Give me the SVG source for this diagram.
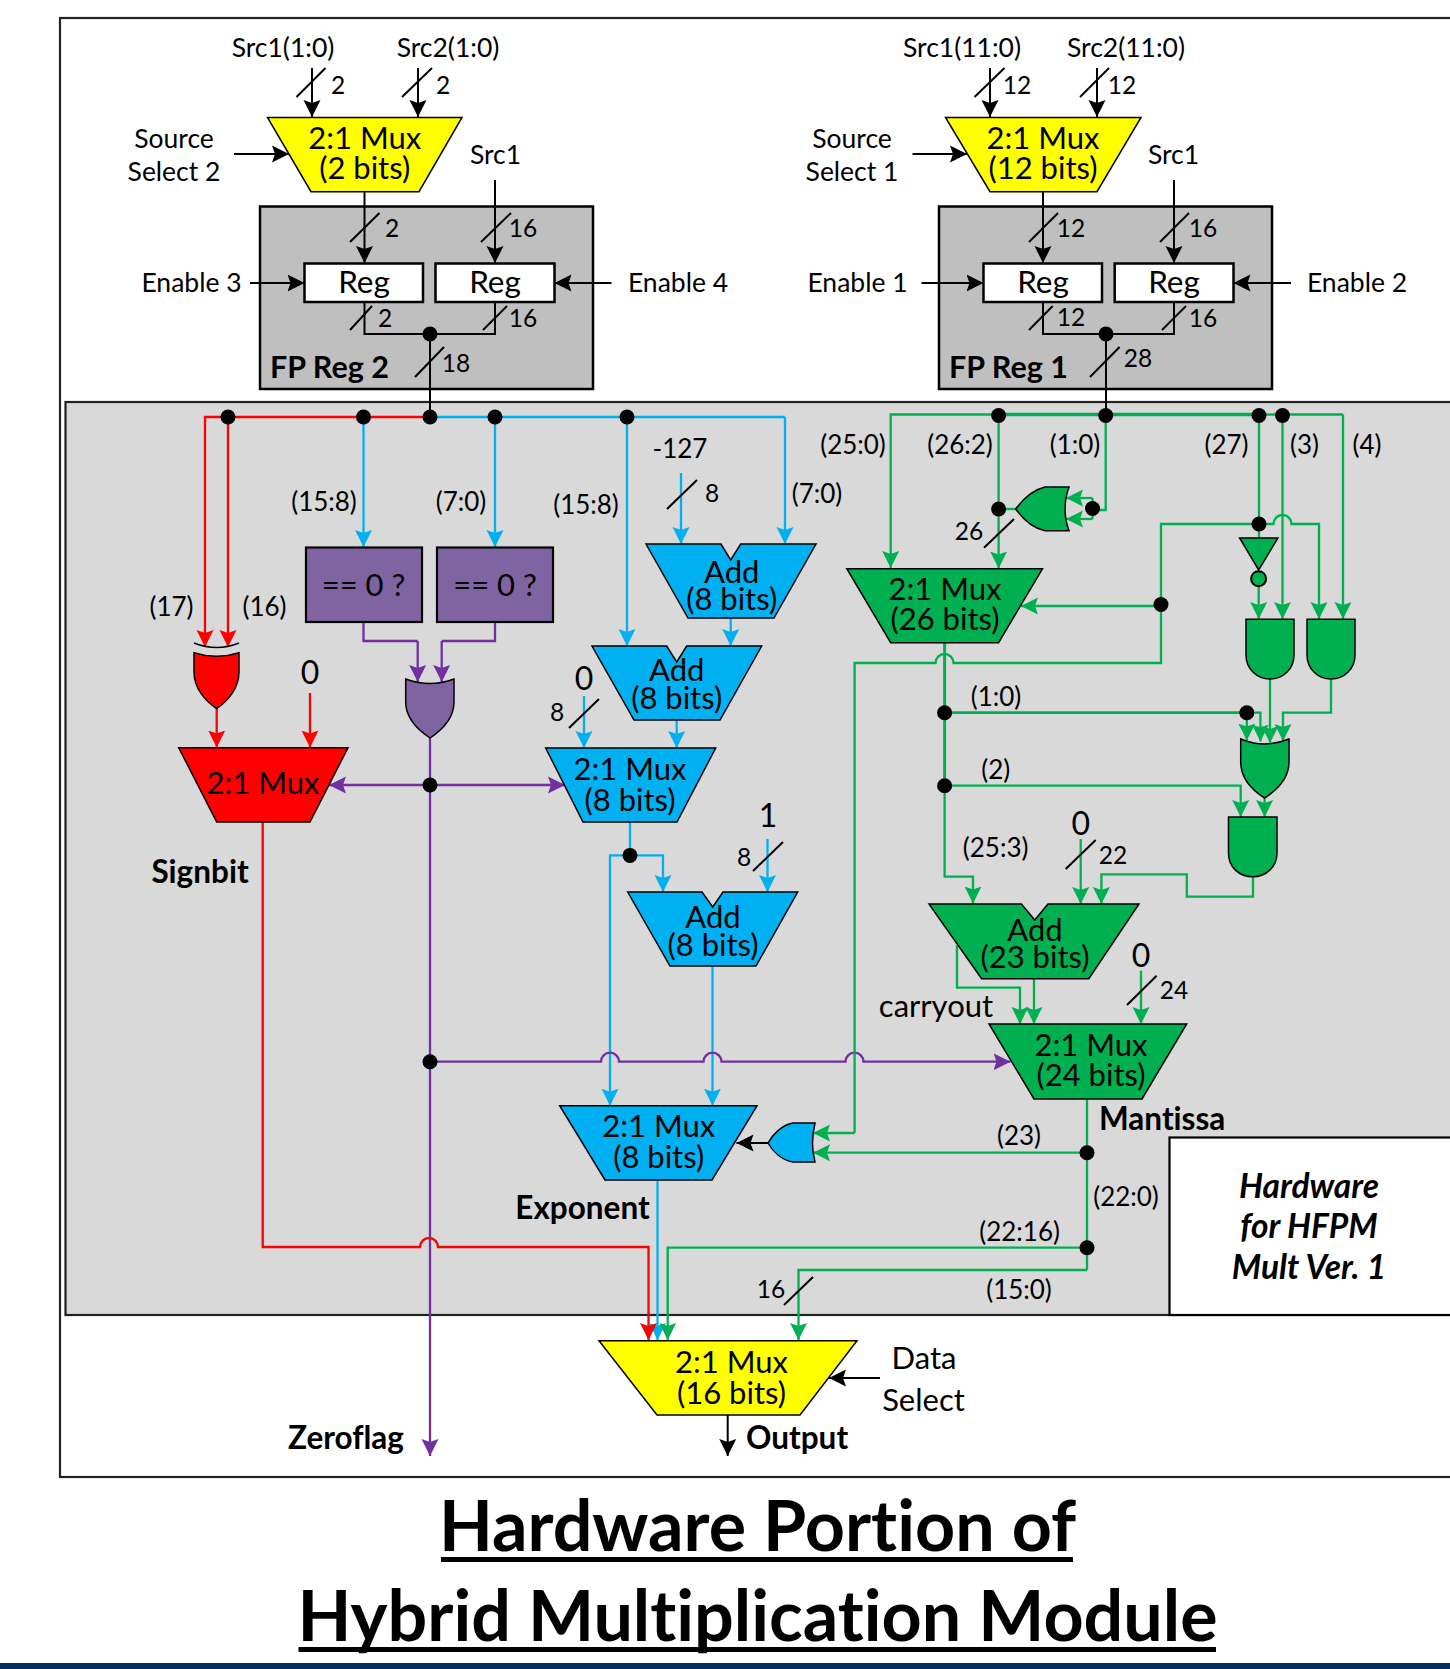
<svg xmlns="http://www.w3.org/2000/svg" width="1450" height="1669" viewBox="0 0 1450 1669">
<style>
text{font-family:"Lato","Carlito","Liberation Sans",sans-serif;fill:#000;text-anchor:middle;font-variant-ligatures:none}
.m{font-size:31px}.l{font-size:26px}.a{font-size:26.500px}.n{font-size:24.500px}.z{font-size:32px}.b{font-size:31.500px;font-weight:700}.f{font-size:30.500px;font-weight:700}.r{font-size:31.500px}.e{font-size:31px}
.ti{font-size:70px;font-weight:700}.hw{font-size:33.500px;font-weight:700;font-style:italic}
.st{text-anchor:start}
.w{fill:none;stroke-width:2.3;stroke-linejoin:miter}
.k{stroke:#000;stroke-width:2}.c{stroke:#00b0f0}.g{stroke:#00b050}.p{stroke:#7030a0}.d{stroke:#f00}
.ka{marker-end:url(#ak)}.ca{marker-end:url(#ac)}.ga{marker-end:url(#ag)}.pa{marker-end:url(#ap)}.da{marker-end:url(#ad)}
.sl{stroke:#000;stroke-width:2;fill:none}
.dot{fill:#000}
.sh{stroke:#000;stroke-width:1.5}
.reg{fill:#fff;stroke:#000;stroke-width:2.500}.fp{fill:#bfbfbf;stroke:#000;stroke-width:2.500}
.yl{fill:#ff0}.bl{fill:#00b0f0}.gr{fill:#00b050}.pu{fill:#8064a2}.rd{fill:#f00}
</style>
<defs>
<marker id="ak" markerUnits="userSpaceOnUse" markerWidth="18" markerHeight="18" refX="17" refY="9" orient="auto"><path d="M0,0.500L17,9L0,17.500L3,9Z" fill="#000"/></marker>
<marker id="ac" markerUnits="userSpaceOnUse" markerWidth="18" markerHeight="18" refX="17" refY="9" orient="auto"><path d="M0,0.500L17,9L0,17.500L3,9Z" fill="#00b0f0"/></marker>
<marker id="ag" markerUnits="userSpaceOnUse" markerWidth="18" markerHeight="18" refX="17" refY="9" orient="auto"><path d="M0,0.500L17,9L0,17.500L3,9Z" fill="#00b050"/></marker>
<marker id="ap" markerUnits="userSpaceOnUse" markerWidth="18" markerHeight="18" refX="17" refY="9" orient="auto"><path d="M0,0.500L17,9L0,17.500L3,9Z" fill="#7030a0"/></marker>
<marker id="ad" markerUnits="userSpaceOnUse" markerWidth="18" markerHeight="18" refX="17" refY="9" orient="auto"><path d="M0,0.500L17,9L0,17.500L3,9Z" fill="#f00"/></marker>
</defs>
<rect width="1450" height="1669" fill="#fff"/>
<rect id="frame" x="60" y="18" width="1400" height="1459" fill="#fff" stroke="#222" stroke-width="2.200"/>
<rect id="hardware-region" x="65.500" y="402" width="1400" height="913" fill="#d9d9d9" stroke="#222" stroke-width="2.200"/>
<g id="fp-reg-2"><rect class="fp" x="260" y="206.500" width="333" height="182.500"/><text class="f" x="329.500" y="378">FP Reg 2</text></g>
<g id="fp-reg-1"><rect class="fp" x="939" y="206.500" width="333" height="182.500"/><text class="f" x="1008.500" y="378">FP Reg 1</text></g>

<g id="connectors">
<path class="w k ka" d="M312,68V117"/><path class="w k ka" d="M418,68V117"/>
<path class="w k ka" d="M990,68V117"/><path class="w k ka" d="M1097,68V117"/>
<path class="w k ka" d="M234,154H289"/><path class="w k ka" d="M912.500,154H967"/>
<path class="w k ka" d="M364.500,191.700V263"/><path class="w k ka" d="M495,180V263"/>
<path class="w k ka" d="M1043,191.700V263"/><path class="w k ka" d="M1174,180V263"/>
<path class="w k ka" d="M250,283H304.500"/><path class="w k ka" d="M611.500,283H554.500"/>
<path class="w k ka" d="M921.500,283H983.500"/><path class="w k ka" d="M1291,283H1233.500"/>
<path class="w k" d="M364.500,302V334H495V302"/><path class="w k" d="M430,334V417"/>
<path class="w k" d="M1043,302V334H1174V302"/><path class="w k" d="M1106,334V415"/>
<path class="w k ka" d="M768,1143H736.500"/>
<path class="w k ka" d="M880,1378H829"/>
<path class="w k ka" d="M727.700,1415V1456"/>
<path class="w d da" d="M430,417H205V647"/>
<path class="w d da" d="M228,417V647"/>
<path class="w d da" d="M216.700,708V747.500"/>
<path class="w d da" d="M310,693V747.500"/>
<path class="w c" d="M430,417H785"/>
<path class="w c ca" d="M785,417V544"/>
<path class="w c ca" d="M363.500,417V547"/>
<path class="w c ca" d="M495,417V547"/>
<path class="w c ca" d="M627,417V646"/>
<path class="w c ca" d="M681,473V544"/>
<path class="w c ca" d="M730.700,618V646"/>
<path class="w c ca" d="M676.700,720V748"/>
<path class="w c ca" d="M584,696V748"/>
<path class="w c" d="M630,822V855.400"/>
<path class="w c ca" d="M630,855.400H663V892"/>
<path class="w c ca" d="M630,855.400H610V1105.700"/>
<path class="w c ca" d="M767.500,839V892"/>
<path class="w c ca" d="M712.500,966V1105.700"/>
<path class="w c ca" d="M657.500,1180V1340"/>
<path class="w p" d="M363.500,622V641H417.700"/>
<path class="w p pa" d="M417.700,641V682"/>
<path class="w p" d="M495,622V641H441.700"/>
<path class="w p pa" d="M441.700,641V682"/>
<path class="w p pa" d="M430,738V1456"/>
<path class="w p pa" d="M430,785H329"/>
<path class="w p pa" d="M430,785H565"/>
<path class="w p pa" d="M430,1061.700H601A9,9 0 0 1 619,1061.700H703.500A9,9 0 0 1 721.500,1061.700H845.500A9,9 0 0 1 863.500,1061.700H1010.500"/>
<path class="w d da" d="M262.700,822V1247H420A9,9 0 0 1 438,1247H648.500V1340"/>
<path class="w g" style="stroke-width:3.500px" d="M998.600,414.500H1259"/>
<path class="w g" d="M1259,414.500H1343"/>
<path class="w g ga" d="M998.600,414.500H890.700V568"/>
<path class="w g ga" d="M998.600,414.500V568.500"/>
<path class="w g" d="M998.600,509H1016"/>
<path class="w g" d="M1105.700,414.500V510H1092.500"/>
<path class="w g" d="M1092.500,498V519"/>
<path class="w g ga" d="M1092.500,498H1066"/>
<path class="w g ga" d="M1092.500,519H1066"/>
<path class="w g" d="M1259,414.500V538"/>
<path class="w g ga" d="M1258.700,586V619"/>
<path class="w g ga" d="M1282.500,414.500V619"/>
<path class="w g ga" d="M1343,414.500V619"/>
<path class="w g ga" d="M1259,524H1273.500A9,9 0 0 1 1291.500,524H1319V619"/>
<path class="w g" d="M1259,524H1161V663H953.500A9,9 0 0 0 935.500,663H854.600V1133"/>
<path class="w g ga" d="M854.600,1133H813"/>
<path class="w g ga" d="M1161,606H1021"/>
<path class="w g" style="stroke-width:3px" d="M944.600,642.700V785.700"/>
<path class="w g ga" d="M944.600,785.700V876.700H973V903.500"/>
<path class="w g" style="stroke-width:2.800px" d="M944.600,712.700H1246.800"/>
<path class="w g ga" d="M1246.800,712.700H1260.400V741.500"/>
<path class="w g ga" d="M1246.800,712.700V740.500"/>
<path class="w g ga" d="M1270,679V743"/>
<path class="w g ga" d="M1331,679V712.700H1283V741"/>
<path class="w g ga" d="M944.600,785.700H1240.700V817"/>
<path class="w g ga" d="M1264.600,798V817"/>
<path class="w g ga" d="M1253,876.700V896.700H1186.800V874.300H1101.400V904"/>
<path class="w g ga" d="M1080.700,839V904"/>
<path class="w g ga" d="M1034,978.700V1024"/>
<path class="w g ga" d="M957,945V987.700H1020V1024"/>
<path class="w g ga" d="M1141,970.700V1024"/>
<path class="w g" d="M1087,1099V1270"/>
<path class="w g ga" d="M1087,1152.700H813"/>
<path class="w g ga" d="M1087,1247.700H667.700V1340"/>
<path class="w g ga" d="M1087,1270H798.500V1340"/>
<g class="sl">
<path d="M296.500,97L325.500,68"/><path d="M402,97L432,68"/><path d="M974.500,97L1004.500,68"/><path d="M1080,97L1109,68"/>
<path d="M350,242L379.500,213"/><path d="M481,242L511,213"/><path d="M1029,242L1058,213"/><path d="M1160,242L1189,213"/>
<path d="M350,330L372,306"/><path d="M483,330L507,306"/><path d="M1029,330L1052.700,306"/><path d="M1162,330L1186,306"/>
<path d="M415,377L444,347"/><path d="M1090,377L1119.600,347"/>
<path d="M667,509L697,480"/><path d="M569,728L599,699"/><path d="M753,871L783,842"/>
<path d="M984,547.700L1014,519"/><path d="M1065.700,869L1095.700,840"/><path d="M1127,1005L1156.600,975.700"/><path d="M784,1305L813,1277"/>
</g>
<g class="dot">
<circle cx="430" cy="334" r="7.500"/><circle cx="1106" cy="334" r="7.500"/>
<circle cx="228" cy="417" r="7.500"/><circle cx="363.500" cy="417" r="7.500"/><circle cx="430" cy="417" r="7.500"/><circle cx="495" cy="417" r="7.500"/><circle cx="627" cy="417" r="7.500"/>
<circle cx="998.600" cy="415.500" r="7.500"/><circle cx="1105.700" cy="415.500" r="7.500"/><circle cx="1259" cy="415.500" r="7.500"/><circle cx="1282.500" cy="415.500" r="7.500"/>
<circle cx="998.600" cy="509" r="7.500"/><circle cx="1092.500" cy="508.500" r="7.500"/><circle cx="1259" cy="524" r="7.500"/><circle cx="1161" cy="604.500" r="7.500"/>
<circle cx="944.600" cy="712.700" r="7.500"/><circle cx="1246.800" cy="712.700" r="7.500"/><circle cx="944.600" cy="785.700" r="7.500"/>
<circle cx="430" cy="785" r="7.500"/><circle cx="630" cy="855.400" r="7.500"/><circle cx="430" cy="1061.700" r="7.500"/>
<circle cx="1087" cy="1152.700" r="7.500"/><circle cx="1087" cy="1247.700" r="7.500"/>
</g>
</g>

<g id="mux-src2"><path class="yl sh" d="M267.500,117.500H462L419,191.700H311Z"/><text class="m" x="364.700" y="149">2:1 Mux</text><text class="m" x="364.700" y="179">(2 bits)</text></g>
<g id="mux-src1"><path class="yl sh" d="M945.500,117.500H1141L1097,191.700H990Z"/><text class="m" x="1043" y="149">2:1 Mux</text><text class="m" x="1043" y="179">(12 bits)</text></g>
<g id="reg-3"><rect class="reg" x="304.500" y="263.500" width="118.500" height="38.500"/><text class="r" x="364" y="293">Reg</text></g>
<g id="reg-4"><rect class="reg" x="435.500" y="263.500" width="119" height="38.500"/><text class="r" x="495" y="293">Reg</text></g>
<g id="reg-1"><rect class="reg" x="983.500" y="263.500" width="118.500" height="38.500"/><text class="r" x="1043" y="293">Reg</text></g>
<g id="reg-2"><rect class="reg" x="1114.700" y="263.500" width="118.800" height="38.500"/><text class="r" x="1174" y="293">Reg</text></g>

<g id="zero-check-1"><rect class="pu" stroke="#000" stroke-width="2.200" x="306" y="547.500" width="116" height="74.500"/><text class="e" x="363.500" y="595.500">== 0 ?</text></g>
<g id="zero-check-2"><rect class="pu" stroke="#000" stroke-width="2.200" x="437" y="547.500" width="116" height="74.500"/><text class="e" x="495" y="595.500">== 0 ?</text></g>
<g id="xor-sign"><path class="rd sh" d="M194,652.700Q216.700,660 239,652.700V672C239,688 228,701 216.700,708.500C205,701 194,688 194,672Z"/><path d="M194,643Q216.700,652 239,643" fill="none" stroke="#000" stroke-width="1.500"/></g>
<g id="or-zero"><path class="pu sh" d="M405.700,679Q430,688 454,679V702C454,718 442,730 430,738C418,730 405.700,718 405.700,702Z"/></g>
<g id="mux-sign"><path class="rd sh" d="M178.700,747.700H348L310,822H216.700Z"/><text class="m" x="263" y="794">2:1 Mux</text></g>

<g id="add-exp-1"><path class="bl sh" d="M646,544H721L730.700,560L740.700,544H816L774,618H688Z"/><text class="m" x="731.700" y="582.500">Add</text><text class="m" x="731.700" y="610">(8 bits)</text></g>
<g id="add-exp-2"><path class="bl sh" d="M592,646H666.700L676.700,662L686.700,646H761.700L720,720H634Z"/><text class="m" x="676.700" y="681">Add</text><text class="m" x="676.700" y="709">(8 bits)</text></g>
<g id="mux-exp-1"><path class="bl sh" d="M545.700,748H715.700L677,822H583Z"/><text class="m" x="630" y="780">2:1 Mux</text><text class="m" x="630" y="811">(8 bits)</text></g>
<g id="add-exp-3"><path class="bl sh" d="M627.700,892H702L712.700,907L723,892H797.700L756,966H670Z"/><text class="m" x="713" y="928">Add</text><text class="m" x="713" y="956">(8 bits)</text></g>
<g id="mux-exp-2"><path class="bl sh" d="M559.700,1105.700H757L712,1180H605Z"/><text class="m" x="658.700" y="1137">2:1 Mux</text><text class="m" x="658.700" y="1168">(8 bits)</text></g>
<g id="or-exp"><path class="bl sh" d="M815,1123Q810,1143 815,1162H793C782,1160 773,1152 768,1143C773,1134 782,1125 793,1123Z"/></g>

<g id="or-sel"><path class="gr sh" d="M1069,487Q1061,509 1069,530.700H1045C1032,528 1023,519 1015.700,509C1023,499 1032,490 1045,487Z"/></g>
<g id="mux-man-1"><path class="gr sh" d="M846.800,568.700H1042.500L998.600,642.700H890.700Z"/><text class="m" x="945" y="600">2:1 Mux</text><text class="m" x="945" y="630">(26 bits)</text></g>
<g id="inverter"><path class="gr sh" d="M1239.600,538H1277.900L1258.700,570Z"/><circle class="gr" stroke="#000" stroke-width="2" cx="1258.600" cy="578.700" r="7.500"/></g>
<g id="and-1"><path class="gr sh" d="M1246,619.300H1294V655C1294,669 1283,679 1270,679C1257,679 1246,669 1246,655Z"/></g>
<g id="and-2"><path class="gr sh" d="M1307,619.300H1355V655C1355,669 1344,679 1331,679C1318,679 1307,669 1307,655Z"/></g>
<g id="or-round"><path class="gr sh" d="M1240.700,739Q1264.600,749 1289,739V762C1289,778 1277,790 1264.600,798C1252,790 1240.700,778 1240.700,762Z"/></g>
<g id="and-3"><path class="gr sh" d="M1228.500,817H1277V853C1277,867 1266,876.700 1252.700,876.700C1239,876.700 1228.500,867 1228.500,853Z"/></g>
<g id="add-man"><path class="gr sh" d="M929,904H1021.400L1034.700,920L1048,904H1139L1088.800,978.700H981.600Z"/><text class="m" x="1035" y="940.500">Add</text><text class="m" x="1035" y="968">(23 bits)</text></g>
<g id="mux-man-2"><path class="gr sh" d="M989,1024H1186.700L1142,1099H1034Z"/><text class="m" x="1091" y="1056">2:1 Mux</text><text class="m" x="1091" y="1086">(24 bits)</text></g>
<g id="mux-out"><path class="yl sh" d="M599,1340.700H857L800,1415H657Z"/><text class="m" x="731.500" y="1373">2:1 Mux</text><text class="m" x="731.500" y="1404">(16 bits)</text></g>
<g id="note"><rect x="1169.500" y="1137.500" width="290" height="177.500" fill="#fff" stroke="#000" stroke-width="2.200"/><text class="hw" x="1309" y="1198">Hardware</text><text class="hw" x="1309" y="1238">for HFPM</text><text class="hw" x="1309" y="1279">Mult Ver. 1</text></g>

<g id="labels">
<text class="a" x="283" y="57">Src1(1:0)</text><text class="a" x="448" y="57">Src2(1:0)</text>
<text class="a" x="962" y="57">Src1(11:0)</text><text class="a" x="1126" y="57">Src2(11:0)</text>
<text class="n" x="338" y="93.500">2</text><text class="n" x="443" y="93.500">2</text><text class="n" x="1017" y="93.500">12</text><text class="n" x="1122" y="93.500">12</text>
<text class="a" x="174" y="148">Source</text><text class="a" x="174" y="181">Select 2</text>
<text class="a" x="852" y="148">Source</text><text class="a" x="852" y="181">Select 1</text>
<text class="a" x="495.500" y="164">Src1</text><text class="a" x="1173.500" y="164">Src1</text>
<text class="n" x="392" y="237">2</text><text class="n" x="523" y="237">16</text><text class="n" x="1071" y="237">12</text><text class="n" x="1203" y="237">16</text>
<text class="a" x="191.500" y="292">Enable 3</text><text class="a" x="678" y="292">Enable 4</text><text class="a" x="857.500" y="292">Enable 1</text><text class="a" x="1357" y="292">Enable 2</text>
<text class="n" x="385" y="327">2</text><text class="n" x="523" y="327">16</text><text class="n" x="1071" y="326">12</text><text class="n" x="1203" y="327">16</text>
<text class="n" x="456" y="372">18</text><text class="n" x="1138" y="367">28</text>
<text class="l" x="324" y="511">(15:8)</text><text class="l" x="461" y="511">(7:0)</text><text class="l" x="586" y="514">(15:8)</text><text class="l" x="817" y="503">(7:0)</text>
<text class="l" x="680" y="458">-127</text><text class="n" x="712" y="502">8</text>
<text class="l" x="853" y="453.500">(25:0)</text><text class="l" x="960" y="453.500">(26:2)</text><text class="l" x="1075" y="453.500">(1:0)</text><text class="l" x="1226.500" y="453.500">(27)</text><text class="l" x="1304.500" y="453.500">(3)</text><text class="l" x="1367" y="453.500">(4)</text>
<text class="n" x="969" y="540">26</text>
<text class="l" x="171.500" y="616">(17)</text><text class="l" x="264.500" y="616">(16)</text>
<text class="z" x="310" y="683.500">0</text><text class="z" x="584" y="689.500">0</text><text class="n" x="557" y="721">8</text>
<text class="z" x="768" y="826.500">1</text><text class="n" x="744" y="865.500">8</text>
<text class="l" x="996" y="705.500">(1:0)</text><text class="l" x="995.700" y="778.500">(2)</text><text class="l" x="995.600" y="857">(25:3)</text>
<text class="z" x="1080.700" y="835">0</text><text class="n" x="1113" y="864">22</text>
<text class="z" x="1141" y="967">0</text><text class="n" x="1174" y="998.500">24</text>
<text class="e" x="936" y="1017">carryout</text>
<text class="b" x="200" y="883">Signbit</text><text class="b" x="582.500" y="1219">Exponent</text><text class="b st" x="1099" y="1130">Mantissa</text>
<text class="l" x="1019" y="1145">(23)</text><text class="l" x="1126" y="1206">(22:0)</text><text class="l" x="1019.600" y="1241">(22:16)</text><text class="l" x="1019" y="1299">(15:0)</text><text class="n" x="771" y="1298">16</text>
<text class="b" x="346" y="1449">Zeroflag</text><text class="b st" x="746" y="1449">Output</text>
<text class="e" x="924" y="1369">Data</text><text class="e" x="923.500" y="1411">Select</text>
</g>
<g id="title">
<text class="ti" x="757.500" y="1550.500">Hardware Portion of</text><rect x="441" y="1557" width="632" height="5"/>
<text class="ti" x="757.500" y="1640.500">Hybrid Multiplication Module</text><rect x="298.500" y="1647" width="917.500" height="5"/>
</g>
<rect id="footer-bar" x="0" y="1663" width="1450" height="6" fill="#002f5f"/>
</svg>
